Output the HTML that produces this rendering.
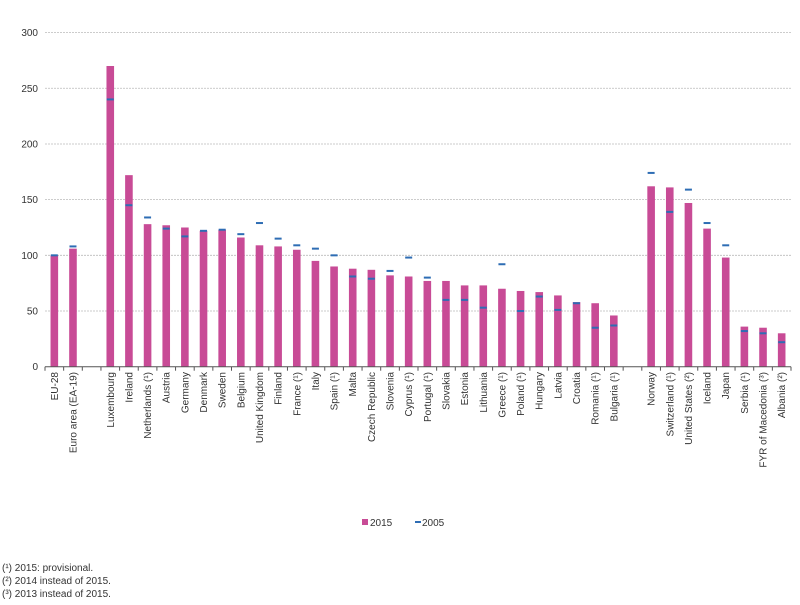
<!DOCTYPE html>
<html><head><meta charset="utf-8"><style>
body{margin:0;background:#fff;font-family:"Liberation Sans",Arial,sans-serif;}
svg text{font-family:"Liberation Sans",Arial,sans-serif;fill:#333;}
</style></head><body>
<svg id="chart" width="800" height="600" xmlns="http://www.w3.org/2000/svg">
<g id="grid"></g>
<g id="yaxis"></g>
<g id="bars"></g>
<g id="marks"></g>
<g id="xaxis"></g>
<g>
<rect x="362" y="519" width="6" height="6" fill="#c84b96"/>
<text x="370" y="526" font-size="10">2015</text>
<rect x="415" y="521" width="6" height="2" fill="#2e6db4"/>
<text x="422" y="526" font-size="10">2005</text>
</g>
<g font-size="10">
<text x="2" y="571">(¹) 2015: provisional.</text>
<text x="2" y="584">(²) 2014 instead of 2015.</text>
<text x="2" y="597">(³) 2013 instead of 2015.</text>
</g>
</svg>
<script>
const categories=["EU-28","Euro area (EA-19)","","Luxembourg","Ireland","Netherlands (¹)","Austria","Germany","Denmark","Sweden","Belgium","United Kingdom","Finland","France (¹)","Italy","Spain (¹)","Malta","Czech Republic","Slovenia","Cyprus (¹)","Portugal (¹)","Slovakia","Estonia","Lithuania","Greece (¹)","Poland (¹)","Hungary","Latvia","Croatia","Romania (¹)","Bulgaria (¹)","","Norway","Switzerland (¹)","United States (²)","Iceland","Japan","Serbia (¹)","FYR of Macedonia (³)","Albania (²)"];
const values2015=[100,106,null,270,172,128,127,125,122,123,116,109,108,105,95,90,88,87,82,81,77,77,73,73,70,68,67,64,58,57,46,null,162,161,147,124,98,36,35,30];
const values2005=[100,108,null,240,145,134,124,117,122,123,119,129,115,109,106,100,81,79,86,98,80,60,60,53,92,50,63,51,57,35,37,null,174,139,159,129,109,32,30,22];
const yTicks=[0,50,100,150,200,250,300];
const NS="http://www.w3.org/2000/svg";
const x0=45,x1=791,y0=366.7,yTop=32.6,yMax=300;
const slot=(x1-x0)/categories.length;
const xS=i=>x0+(i+0.5)*slot;
const yS=v=>y0-(v/yMax)*(y0-yTop);
function mk(tag,attrs,parent){const e=document.createElementNS(NS,tag);for(const k in attrs)e.setAttribute(k,attrs[k]);parent.appendChild(e);return e;}
const grid=document.getElementById('grid'),ya=document.getElementById('yaxis'),bars=document.getElementById('bars'),marks=document.getElementById('marks'),xa=document.getElementById('xaxis');
yTicks.forEach(t=>{
  if(t>0){const g=mk('line',{x1:x0,x2:x1,y1:yS(t),y2:yS(t),stroke:'#bbb','stroke-dasharray':'2,1','stroke-width':0.8},grid);
  
  }
  const tx=mk('text',{x:38,y:yS(t)+3.5,'text-anchor':'end','font-size':10},ya);
  
  
  tx.textContent=t;
});
const ax=mk('line',{x1:x0,x2:x1,y1:y0,y2:y0,stroke:'#555','stroke-width':1},xa);


for(let i=0;i<=categories.length;i++){
  const tk=mk('line',{x1:x0+i*slot,x2:x0+i*slot,y1:y0,y2:y0+4,stroke:'#555','stroke-width':1},xa);
  
  
}
categories.forEach((c,i)=>{
  const cx=xS(i);
  if(values2015[i]!=null){
    const b=mk('rect',{x:cx-3.8,y:yS(values2015[i]),width:7.6,height:y0-yS(values2015[i]),fill:'#c84b96'},bars);
    
    
  }
  if(values2005[i]!=null){
    const m=mk('rect',{x:cx-3.5,y:yS(values2005[i])-1,width:7,height:2,fill:'#2e6db4'},marks);
    
    
  }
  if(c){
    const t=mk('text',{x:0,y:0,'text-anchor':'end','font-size':10,transform:`translate(${cx+3.5},372) rotate(-90)`},xa);
    
    
    t.textContent=c;
  }
});
</script>
</body></html>
